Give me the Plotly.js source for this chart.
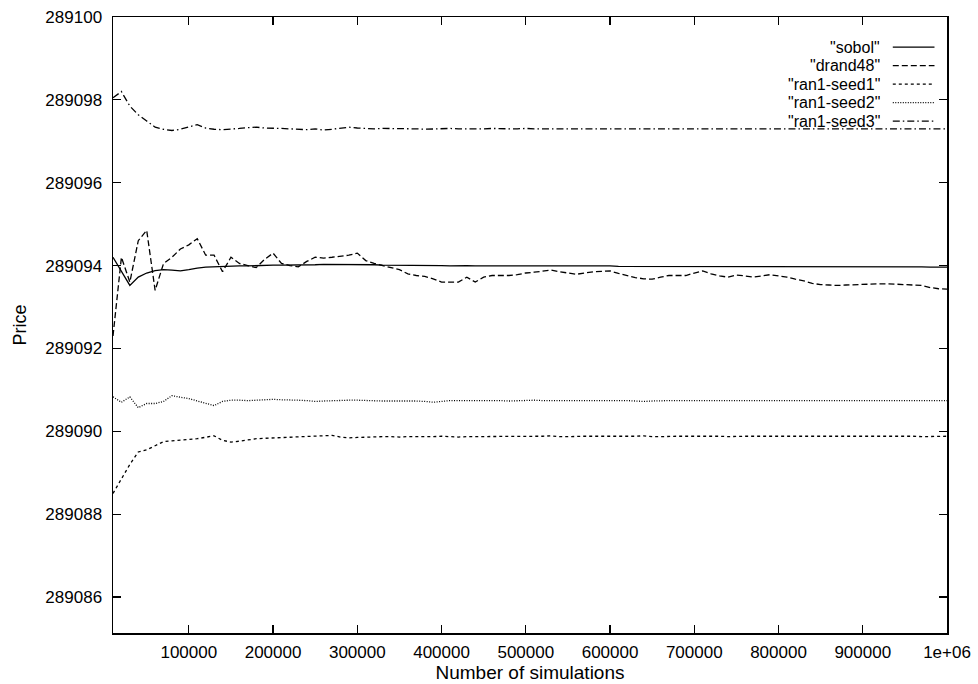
<!DOCTYPE html>
<html>
<head>
<meta charset="utf-8">
<script src="https://cdn.plot.ly/plotly-3.0.1.min.js"></script>
<style>html,body{margin:0;padding:0;background:#fff;}#chart{width:978px;height:684px;}</style>
</head>
<body>
<div id="chart"></div>
<script>
// Number of simulations
const nSim = [10000,20000,30000,40000,50000,60000,70000,80000,90000,100000,
110000,120000,130000,140000,150000,160000,170000,180000,190000,200000,
210000,220000,230000,240000,250000,260000,270000,280000,290000,300000,
310000,320000,330000,340000,350000,360000,370000,380000,390000,400000,
410000,420000,430000,440000,450000,460000,470000,480000,490000,500000,
510000,520000,530000,540000,550000,560000,570000,580000,590000,600000,
610000,620000,630000,640000,650000,660000,670000,680000,690000,700000,
710000,720000,730000,740000,750000,760000,770000,780000,790000,800000,
810000,820000,830000,840000,850000,860000,870000,880000,890000,900000,
910000,920000,930000,940000,950000,960000,970000,980000,990000,1000000];

const sobol = [289094.2,289093.85,289093.52,289093.72,289093.82,289093.88,289093.9,289093.89,289093.87,289093.9,
289093.94,289093.96,289093.97,289093.98,289093.98,289093.99,289093.99,289094.0,289094.0,289094.01,
289094.01,289094.01,289094.02,289094.02,289094.02,289094.03,289094.03,289094.03,289094.03,289094.03,
289094.02,289094.02,289094.01,289094.01,289094.01,289094.0,289094.0,289094.0,289094.0,289094.0,
289093.99,289094.0,289094.0,289093.99,289093.99,289094.0,289094.0,289093.99,289093.99,289093.99,
289093.99,289093.99,289093.99,289093.99,289093.99,289093.99,289093.99,289093.99,289093.99,289093.99,
289093.98,289093.98,289093.98,289093.98,289093.98,289093.98,289093.98,289093.98,289093.98,289093.98,
289093.98,289093.98,289093.98,289093.98,289093.98,289093.98,289093.98,289093.98,289093.98,289093.98,
289093.97,289093.97,289093.97,289093.97,289093.97,289093.97,289093.97,289093.97,289093.97,289093.97,
289093.97,289093.97,289093.97,289093.97,289093.97,289093.97,289093.97,289093.96,289093.96,289093.96];

const drand48 = [289092.3,289094.2,289093.6,289094.6,289094.85,289093.4,289094.05,289094.2,289094.4,289094.5,
289094.65,289094.25,289094.25,289093.85,289094.2,289094.05,289094.0,289093.95,289094.15,289094.3,
289094.05,289094.0,289093.97,289094.1,289094.2,289094.18,289094.2,289094.22,289094.25,289094.3,
289094.12,289094.05,289094.0,289093.94,289093.9,289093.8,289093.76,289093.74,289093.68,289093.6,
289093.6,289093.6,289093.72,289093.6,289093.72,289093.76,289093.76,289093.76,289093.78,289093.82,
289093.84,289093.87,289093.89,289093.85,289093.82,289093.79,289093.82,289093.85,289093.86,289093.87,
289093.81,289093.76,289093.71,289093.68,289093.67,289093.72,289093.76,289093.76,289093.76,289093.82,
289093.87,289093.8,289093.75,289093.72,289093.77,289093.75,289093.72,289093.75,289093.78,289093.75,
289093.72,289093.67,289093.63,289093.57,289093.54,289093.53,289093.52,289093.53,289093.54,289093.54,
289093.55,289093.56,289093.56,289093.55,289093.53,289093.53,289093.52,289093.47,289093.44,289093.43];

const ran1Seed1 = [289088.5,289088.85,289089.2,289089.5,289089.55,289089.65,289089.75,289089.77,289089.78,289089.8,
289089.82,289089.85,289089.89,289089.78,289089.74,289089.76,289089.79,289089.82,289089.83,289089.84,
289089.85,289089.86,289089.86,289089.87,289089.88,289089.89,289089.9,289089.86,289089.84,289089.85,
289089.86,289089.86,289089.87,289089.87,289089.86,289089.87,289089.87,289089.86,289089.87,289089.88,
289089.87,289089.86,289089.87,289089.87,289089.87,289089.88,289089.87,289089.87,289089.88,289089.88,
289089.87,289089.88,289089.89,289089.87,289089.87,289089.88,289089.88,289089.88,289089.88,289089.88,
289089.87,289089.88,289089.88,289089.89,289089.87,289089.87,289089.88,289089.88,289089.88,289089.88,
289089.89,289089.88,289089.88,289089.87,289089.88,289089.88,289089.88,289089.88,289089.88,289089.88,
289089.88,289089.88,289089.88,289089.88,289089.89,289089.89,289089.88,289089.88,289089.88,289089.88,
289089.88,289089.88,289089.88,289089.89,289089.88,289089.88,289089.87,289089.87,289089.88,289089.88];

const ran1Seed2 = [289090.83,289090.7,289090.83,289090.57,289090.67,289090.67,289090.72,289090.86,289090.82,289090.79,
289090.73,289090.67,289090.62,289090.72,289090.75,289090.75,289090.74,289090.75,289090.76,289090.77,
289090.76,289090.76,289090.75,289090.74,289090.72,289090.73,289090.74,289090.74,289090.75,289090.75,
289090.74,289090.74,289090.73,289090.73,289090.73,289090.74,289090.73,289090.72,289090.70,289090.72,
289090.74,289090.74,289090.74,289090.75,289090.74,289090.74,289090.74,289090.73,289090.74,289090.74,
289090.75,289090.74,289090.74,289090.75,289090.75,289090.74,289090.74,289090.75,289090.75,289090.75,
289090.74,289090.74,289090.73,289090.72,289090.73,289090.74,289090.74,289090.74,289090.74,289090.74,
289090.74,289090.74,289090.74,289090.74,289090.74,289090.74,289090.74,289090.74,289090.74,289090.74,
289090.74,289090.74,289090.74,289090.74,289090.74,289090.74,289090.74,289090.74,289090.74,289090.74,
289090.74,289090.74,289090.74,289090.74,289090.74,289090.74,289090.74,289090.74,289090.73,289090.74];

const ran1Seed3 = [289098.05,289098.2,289097.85,289097.64,289097.49,289097.34,289097.29,289097.26,289097.29,289097.34,
289097.4,289097.32,289097.29,289097.28,289097.29,289097.31,289097.33,289097.34,289097.32,289097.32,
289097.31,289097.3,289097.29,289097.28,289097.3,289097.27,289097.29,289097.32,289097.34,289097.32,
289097.31,289097.3,289097.31,289097.31,289097.3,289097.3,289097.3,289097.29,289097.3,289097.3,
289097.31,289097.3,289097.3,289097.29,289097.3,289097.31,289097.3,289097.3,289097.3,289097.31,
289097.3,289097.3,289097.31,289097.3,289097.3,289097.3,289097.31,289097.3,289097.3,289097.3,
289097.3,289097.31,289097.3,289097.3,289097.3,289097.3,289097.3,289097.31,289097.3,289097.3,
289097.31,289097.3,289097.3,289097.3,289097.3,289097.3,289097.3,289097.3,289097.3,289097.31,
289097.3,289097.3,289097.3,289097.3,289097.3,289097.3,289097.3,289097.3,289097.3,289097.3,
289097.3,289097.3,289097.3,289097.3,289097.3,289097.3,289097.3,289097.3,289097.3,289097.3];

const seriesNames = ['"sobol"', '"drand48"', '"ran1-seed1"', '"ran1-seed2"', '"ran1-seed3"'];
const seriesValues = [sobol, drand48, ran1Seed1, ran1Seed2, ran1Seed3];
const seriesDash = ['solid', '6px,3px', '3px,3px', '1px,1.5px', '7px,3px,1.5px,3px'];

const xTickVals = [100000,200000,300000,400000,500000,600000,700000,800000,900000,1000000];
const xTickText = ['100000','200000','300000','400000','500000','600000','700000','800000','900000','1e+06'];
const yTickVals = [289086,289088,289090,289092,289094,289096,289098,289100];
const yTickText = ['289086','289088','289090','289092','289094','289096','289098','289100'];

const FONT = 'Liberation Sans, Arial, Helvetica, sans-serif';

const traces = seriesValues.map((vals, i) => ({
  type: 'scatter', mode: 'lines', name: seriesNames[i],
  x: nSim, y: vals,
  line: {color: '#000', width: 1.3, dash: seriesDash[i]},
  showlegend: false, hoverinfo: 'skip'
}));

// gnuplot-style key: right-aligned text with line sample to its right
const legendRowsY = [0.951, 0.921, 0.891, 0.861, 0.831];
const annotations = seriesNames.map((n, i) => ({
  xref: 'paper', yref: 'paper', x: 0.921, y: legendRowsY[i],
  xanchor: 'right', yanchor: 'middle', text: n, showarrow: false,
  borderpad: 0, height: 17, valign: 'middle',
  font: {family: FONT, size: 16, color: '#000'}
}));
const shapes = seriesNames.map((n, i) => ({
  type: 'line', xref: 'paper', yref: 'paper',
  x0: 0.935, x1: 0.985, y0: legendRowsY[i], y1: legendRowsY[i],
  line: {color: '#000', width: 1.2, dash: seriesDash[i]}
}));

const axisCommon = {
  showline: true, linecolor: '#000', linewidth: 1.5, mirror: 'ticks',
  ticks: 'inside', ticklen: 8, tickwidth: 1.2, tickcolor: '#000',
  showgrid: false, zeroline: false,
  tickfont: {family: FONT, size: 17, color: '#000'}
};

const layout = {
  width: 978, height: 684,
  margin: {l: 113, r: 31, t: 17, b: 51},
  paper_bgcolor: '#fff', plot_bgcolor: '#fff',
  showlegend: false,
  xaxis: Object.assign({}, axisCommon, {
    range: [10000, 1000000], tickmode: 'array', tickvals: xTickVals, ticktext: xTickText,
    ticklabelstandoff: 3,
    title: {text: 'Number of simulations', font: {family: FONT, size: 19, color: '#000'}, standoff: 0}
  }),
  yaxis: Object.assign({}, axisCommon, {
    range: [289085.13, 289100], tickmode: 'array', tickvals: yTickVals, ticktext: yTickText,
    ticklabelstandoff: 6,
    title: {text: 'Price', font: {family: FONT, size: 18, color: '#000'}, standoff: 14}
  }),
  annotations: annotations,
  shapes: shapes
};

Plotly.newPlot('chart', traces, layout, {displayModeBar: false, staticPlot: true});
</script>
</body>
</html>
